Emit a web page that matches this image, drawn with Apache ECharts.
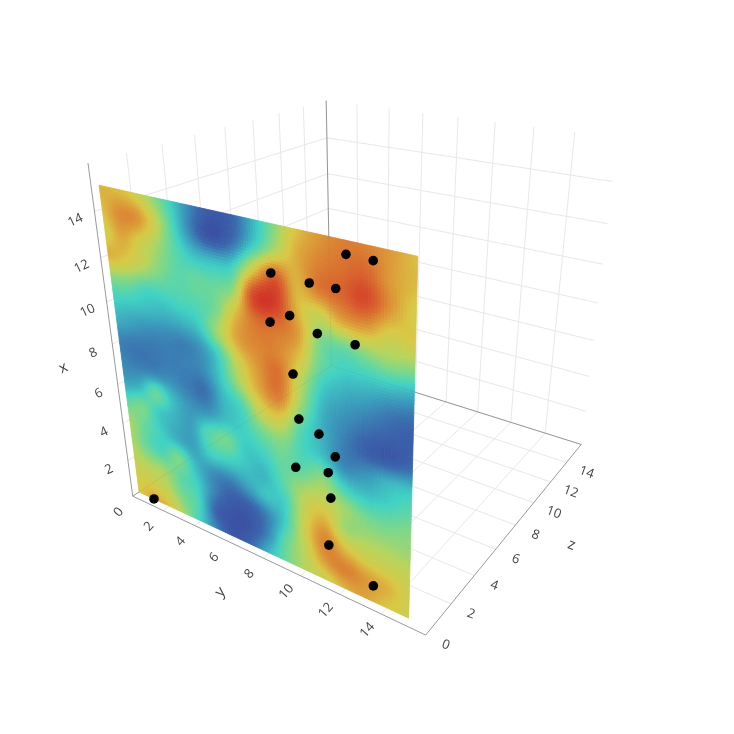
<!DOCTYPE html>
<html><head><meta charset="utf-8">
<style>html,body{margin:0;padding:0;background:#fff}#c{width:734px;height:734px}</style>
<script src="https://cdn.jsdelivr.net/npm/echarts@6/dist/echarts.min.js"></script>
</head><body><div id="c"></div>
<script>
// ---- data ----
const axisTicks = [0,2,4,6,8,10,12,14];
const axisMax = 16;
const sliceZ = 0.4;
const gridY = [0,1,2,3,4,5,6,7,8,9,10,11,12,13,14,15];
const gridX = [0,1,2,3,4,5,6,7,8,9,10,11,12,13,14,15];
// surface values, one row per x (0..15), one column per y (0..15)
const surface = [
[5.9,6.6,6.2,4.7,3.0,1.5,0.4,1.0,2.5,3.9,5.0,5.5,6.5,6.8,6.0,5.7],
[5.7,5.7,5.2,4.0,3.2,1.0,0.3,0.4,1.6,3.7,5.2,7.0,7.6,7.0,6.5,5.6],
[5.2,4.8,4.6,3.6,3.0,1.6,0.7,0.7,1.5,3.0,5.5,7.5,6.3,5.7,5.5,5.4],
[4.8,3.7,3.2,4.0,2.6,1.8,1.5,2.0,2.7,3.0,5.3,6.5,4.7,4.7,4.7,4.6],
[4.7,3.7,3.0,2.4,2.1,3.0,3.0,2.7,2.5,3.5,4.8,5.3,4.6,3.9,3.9,4.2],
[3.5,4.0,2.9,2.4,2.1,3.4,3.9,2.9,3.0,3.7,3.6,4.3,3.0,2.7,3.0,3.5],
[2.1,2.5,3.7,2.6,1.9,1.9,2.6,3.0,3.8,4.2,3.2,2.7,1.6,1.8,2.4,2.7],
[1.6,1.5,1.6,1.7,1.4,1.2,2.5,3.3,5.3,5.7,3.5,2.4,1.5,0.8,0.5,1.0],
[1.5,1.3,1.3,1.4,1.5,1.7,2.9,4.8,6.7,7.6,4.7,2.5,1.8,1.3,0.9,0.7],
[2.3,2.0,1.7,1.6,1.5,1.9,3.2,5.6,7.1,8.0,5.3,3.0,2.3,2.0,1.5,1.2],
[3.0,2.8,2.6,2.4,2.5,2.9,4.7,6.8,7.5,7.5,6.2,3.8,3.0,2.9,2.8,2.5],
[4.2,4.0,3.3,3.2,3.3,3.4,4.0,6.3,8.0,8.0,7.0,4.2,3.8,4.3,4.6,4.4],
[6.5,6.0,5.2,4.2,3.5,3.7,3.7,4.6,9.2,9.5,6.5,5.5,6.8,7.0,5.8,6.0],
[5.7,6.7,5.8,4.7,3.5,2.7,2.6,3.0,6.0,8.5,6.5,7.8,8.3,9.0,7.2,5.8],
[6.2,7.3,7.2,5.5,3.3,1.5,0.3,1.0,2.8,4.8,6.5,7.5,8.0,8.3,7.0,6.3],
[6.5,6.3,5.8,4.5,3.0,1.6,0.6,0.7,2.2,4.0,6.0,7.0,7.6,7.6,7.0,6.2]
];
// black points
const pointX = [0.0,14.5,14.5,13.1,13.1,13.15,11.6,11.1,11.2,11.2,9.2,7.3,6.95,6.2,5.0,5.35,4.2,1.85,0.8];
const pointY = [1.0,12.2,13.3,8.85,10.6,11.75,9.65,8.7,10.9,12.55,9.7,9.9,10.85,11.6,9.65,11.25,11.35,11.2,13.35];
// colour ramp across the surface values 0..10
const ramp = ['#3a4aa0','#3a66ac','#3a9cbc','#40d2c4','#78d88c','#b8d45c','#d9c844','#dc9a38','#d9702f','#d64a2a','#cf2e26'];
// camera calibration: [x,y,z] -> picture position
const camWorld = [[0,0,0],[0,16,0],[0,16,16],[0,0,16],[16,0,0],[16,0,16],[16,16,16],[0,0,.4],[0,15,.4],[15,15,.4],[15,0,.4],[14,0,16]];
const camPixel = [[133,495],[425,635],[581,444],[332,367],[88,164],[326,100],[617,137],[138,491.5],[409.5,619],[419,257],[99,185],[327,138]];

// ---- projection ----
function solve(A,b){const n=b.length;for(let i=0;i<n;i++){let p=i;for(let r=i+1;r<n;r++)if(Math.abs(A[r][i])>Math.abs(A[p][i]))p=r;[A[i],A[p]]=[A[p],A[i]];[b[i],b[p]]=[b[p],b[i]];for(let r=i+1;r<n;r++){const f=A[r][i]/A[i][i];for(let c=i;c<n;c++)A[r][c]-=f*A[i][c];b[r]-=f*b[i];}}const x=new Array(n).fill(0);for(let i=n-1;i>=0;i--){let s=b[i];for(let c=i+1;c<n;c++)s-=A[i][c]*x[c];x[i]=s/A[i][i];}return x;}
const cam=(function(){const rows=[],rhs=[];camWorld.forEach((w,i)=>{const [X,Y,Z]=w.map(v=>v/16),[u,v]=camPixel[i];rows.push([X,Y,Z,1,0,0,0,0,-u*X,-u*Y,-u*Z]);rhs.push(u);rows.push([0,0,0,0,X,Y,Z,1,-v*X,-v*Y,-v*Z]);rhs.push(v);});
const n=11,N=[...Array(n)].map(()=>new Array(n).fill(0)),m=new Array(n).fill(0);rows.forEach((r,k)=>{for(let i=0;i<n;i++){m[i]+=r[i]*rhs[k];for(let j=0;j<n;j++)N[i][j]+=r[i]*r[j];}});return solve(N,m);})();
function proj(x,y,z){const X=x/16,Y=y/16,Z=z/16,w=cam[8]*X+cam[9]*Y+cam[10]*Z+1;return [(cam[0]*X+cam[1]*Y+cam[2]*Z+cam[3])/w,(cam[4]*X+cam[5]*Y+cam[6]*Z+cam[7])/w];}

// ---- colour ----
function hex(c){return [parseInt(c.slice(1,3),16),parseInt(c.slice(3,5),16),parseInt(c.slice(5,7),16)];}
const rampRGB=ramp.map(hex);
function color(v){v=Math.max(0,Math.min(10,v));const i=Math.min(9,Math.floor(v)),f=v-i,a=rampRGB[i],b=rampRGB[i+1];return 'rgb('+[0,1,2].map(k=>Math.round(a[k]+(b[k]-a[k])*f)).join(',')+')';}
function cr(p0,p1,p2,p3,t){return .5*(2*p1+(p2-p0)*t+(2*p0-5*p1+4*p2-p3)*t*t+(3*p1-p0-3*p2+p3)*t*t*t);}
function surf(xf,yf){const i=Math.min(14,Math.floor(xf)),j=Math.min(14,Math.floor(yf)),tx=xf-i,ty=yf-j,c=[];for(let r=-1;r<3;r++){const R=surface[Math.max(0,Math.min(15,i+r))];const g=q=>R[Math.max(0,Math.min(15,j+q))];c.push(cr(g(-1),g(0),g(1),g(2),ty));}return cr(c[0],c[1],c[2],c[3],tx);}

// ---- line tables from the tick lists ----
const gridLines=[];
axisTicks.slice(1).forEach(t=>{
  gridLines.push([t,0,0,t,0,axisMax],[0,0,t,axisMax,0,t]);        // wall y=0
  gridLines.push([t,0,axisMax,t,axisMax,axisMax],[0,t,axisMax,axisMax,t,axisMax]); // wall z=max
  gridLines.push([0,t,0,0,t,axisMax],[0,0,t,0,axisMax,t]);        // floor
});
const axisLines=[[0,0,0,axisMax,0,0],[0,0,0,0,axisMax,0],[0,axisMax,0,0,axisMax,axisMax],[0,0,axisMax,axisMax,0,axisMax],[0,0,axisMax,0,axisMax,axisMax],[0,0,0,0,0,axisMax]];
const cells=[];gridX.slice(0,-1).forEach(x=>gridY.slice(0,-1).forEach(y=>cells.push([x,y])));
const LAB='"Open Sans",sans-serif';
const tickLabels=[];
axisTicks.forEach(t=>{
  if(t>0)tickLabels.push({value:[t,0,0],text:String(t),dx:-19,dy:9,rot:25});
  tickLabels.push({value:[0,t,0],text:String(t),dx:-14,dy:16,rot:48});
  tickLabels.push({value:[0,axisMax,t],text:String(t),dx:20,dy:10,rot:-20});
});
const titles=[
 {value:[8,0,0],text:'x',dx:-49,dy:24,rot:25},
 {value:[0,8,0],text:'y',dx:-43,dy:34,rot:48},
 {value:[0,axisMax,8],text:'z',dx:56,dy:20,rot:-20}
];
const line3=(style)=>function(p,api){const a=proj(api.value(0),api.value(1),api.value(2)),b=proj(api.value(3),api.value(4),api.value(5)),A=api.coord(a),B=api.coord(b);return {type:'line',shape:{x1:A[0],y1:A[1],x2:B[0],y2:B[1]},style:style};};
const textSeries=(arr,font)=>({type:'custom',coordinateSystem:'cartesian2d',silent:true,clip:false,z:6,animation:false,
  data:arr.map((d,i)=>[i]),renderItem:function(p,api){const d=arr[api.value(0)],q=api.coord(proj(d.value[0],d.value[1],d.value[2]));return {type:'text',x:q[0]+d.dx,y:q[1]+d.dy,rotation:d.rot*Math.PI/180,style:{text:d.text,fill:'#444',font:font,align:'center',verticalAlign:'middle'}};}});
const SUB=8;
const chart=echarts.init(document.getElementById('c'),null,{renderer:'canvas'});
chart.setOption({animation:false,backgroundColor:'#fff',
 grid:{left:0,right:0,top:0,bottom:0},
 xAxis:{type:'value',min:0,max:734,show:false},
 yAxis:{type:'value',min:0,max:734,inverse:true,show:false},
 series:[
  {type:'custom',coordinateSystem:'cartesian2d',silent:true,clip:false,z:1,progressive:0,data:gridLines,renderItem:line3({stroke:'#e8e8e8',lineWidth:1,fill:null})},
  {type:'custom',coordinateSystem:'cartesian2d',silent:true,clip:false,z:2,progressive:0,data:axisLines,renderItem:line3({stroke:'#9a9a9a',lineWidth:1,fill:null})},
  {type:'custom',coordinateSystem:'cartesian2d',silent:true,clip:false,z:3,progressive:0,data:cells,renderItem:function(p,api){
    const x=api.value(0),y=api.value(1),ch=[];
    for(let a=0;a<SUB;a++)for(let b=0;b<SUB;b++){
      const x0=x+a/SUB,x1=x+(a+1)/SUB,y0=y+b/SUB,y1=y+(b+1)/SUB;
      const pts=[[x0,y0],[x0,y1],[x1,y1],[x1,y0]].map(q=>api.coord(proj(q[0],q[1],sliceZ)));
      const c=color(surf((x0+x1)/2,(y0+y1)/2));
      ch.push({type:'polygon',shape:{points:pts},style:{fill:c,stroke:c,lineWidth:.8}});
    }
    return {type:'group',children:ch};
  }},
  {type:'custom',coordinateSystem:'cartesian2d',silent:true,clip:false,z:4,progressive:0,data:axisLines.slice(3),renderItem:line3({stroke:'rgba(120,120,120,.12)',lineWidth:1,fill:null})},
  {type:'custom',coordinateSystem:'cartesian2d',silent:true,clip:false,z:5,progressive:0,data:pointX.map((x,i)=>[x,pointY[i]]),renderItem:function(p,api){const q=api.coord(proj(api.value(0),api.value(1),sliceZ));return {type:'circle',shape:{cx:q[0],cy:q[1],r:4.8},style:{fill:'#000'}};}},
  textSeries(tickLabels,'13px '+LAB),
  textSeries(titles,'15px '+LAB)
 ]});
</script></body></html>
